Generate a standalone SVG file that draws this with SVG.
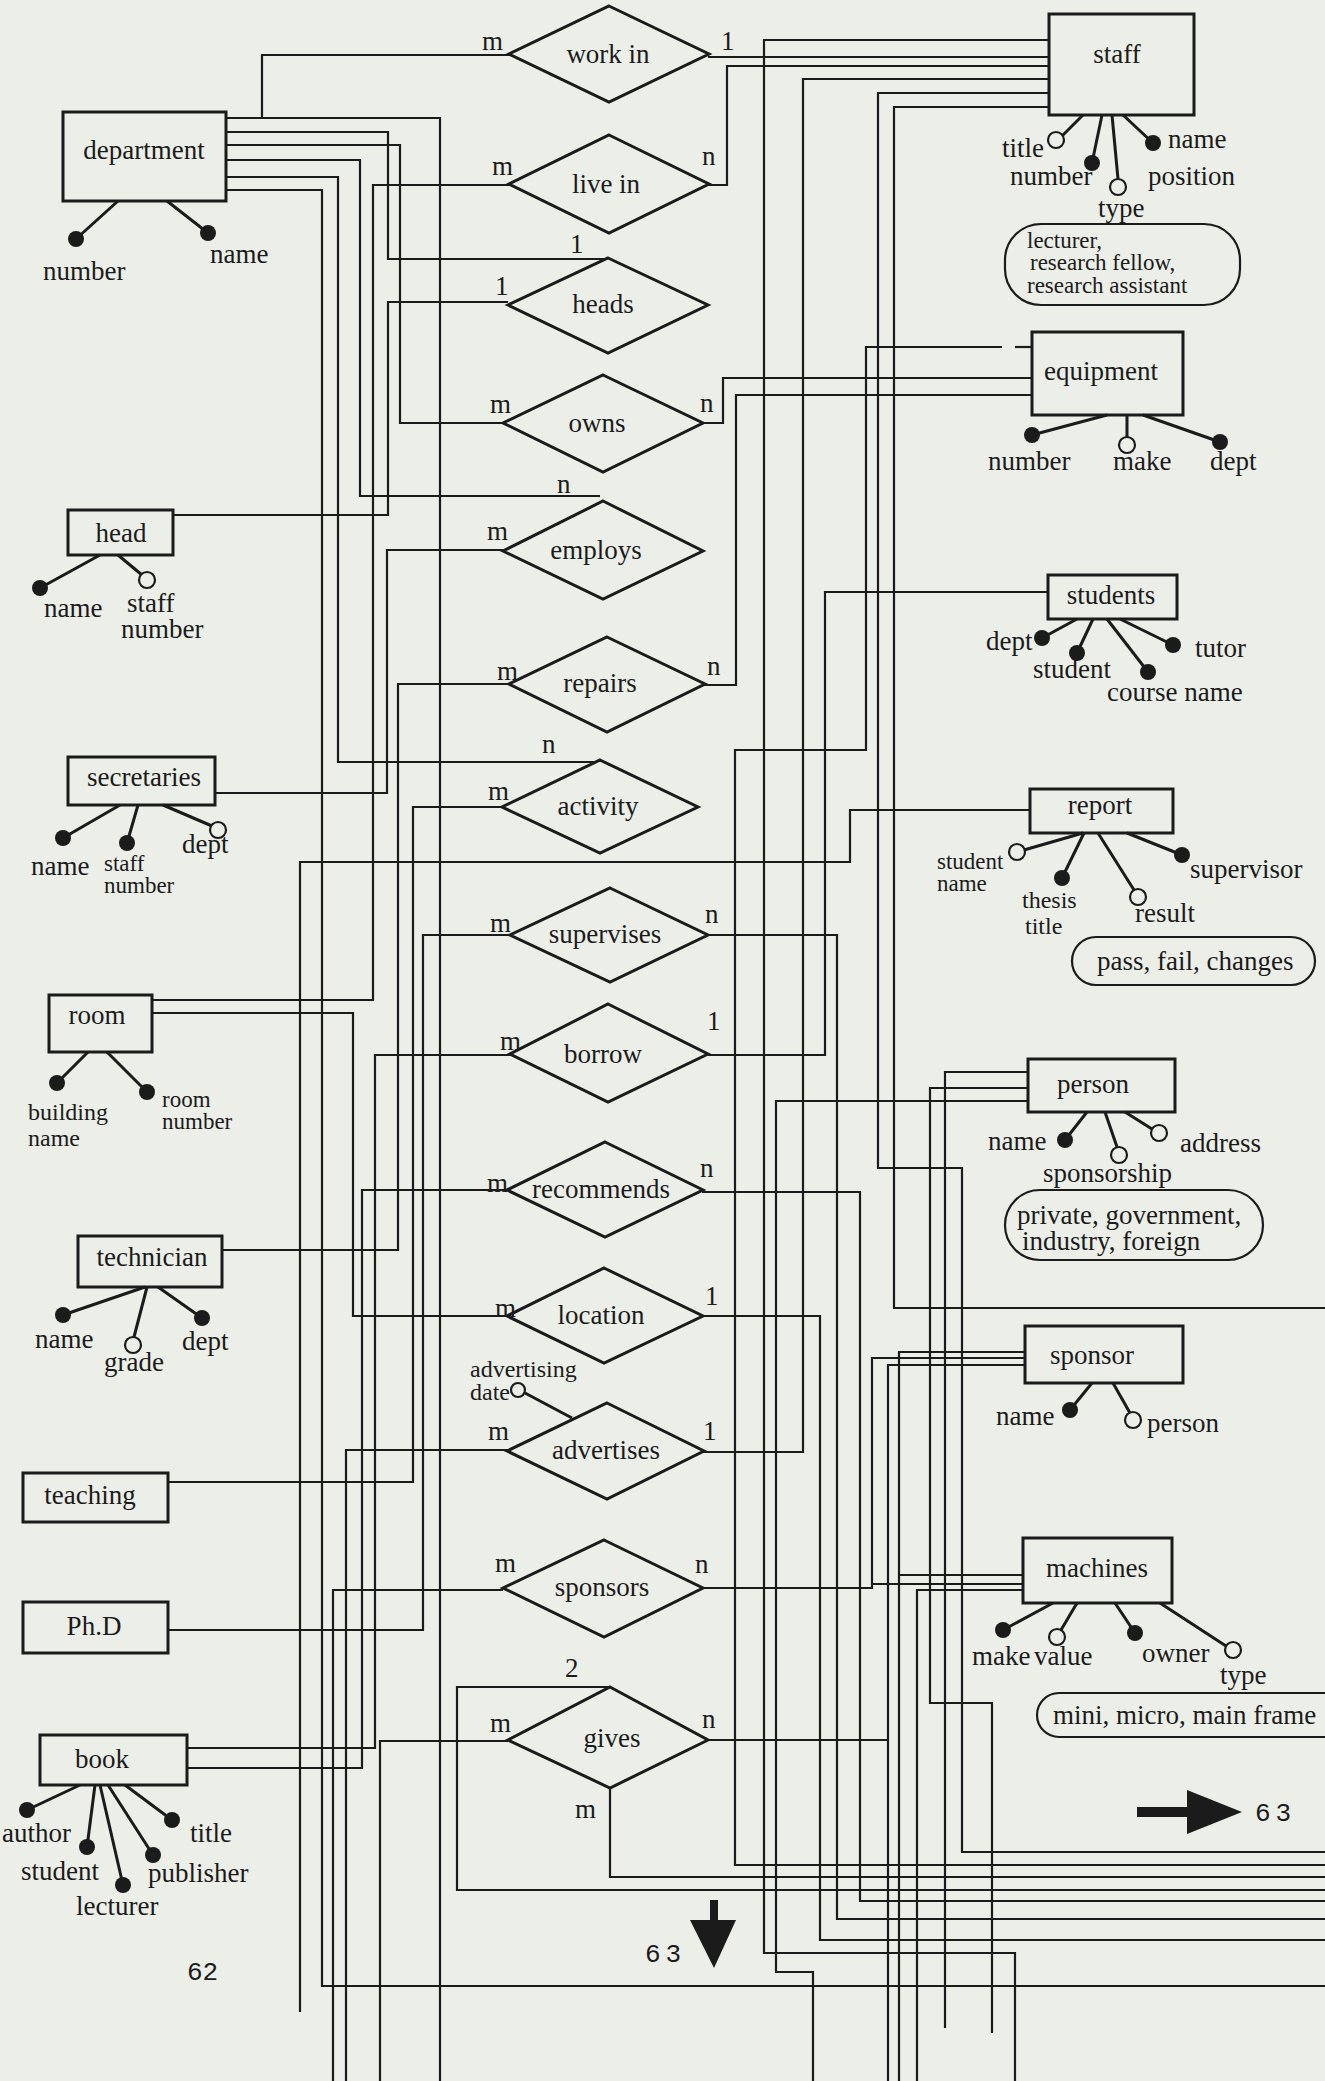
<svg xmlns="http://www.w3.org/2000/svg" width="1325" height="2081" viewBox="0 0 1325 2081">
<style>
.bg{fill:#eceee8}
.c{fill:none;stroke:#1b1b1b;stroke-width:2.2}
.box{fill:#eceee8;stroke:#1b1b1b;stroke-width:3}
.dia{fill:#eceee8;stroke:#1b1b1b;stroke-width:3}
.al{stroke:#1b1b1b;stroke-width:3}
.fc{fill:#1b1b1b}
.oc{fill:#eceee8;stroke:#1b1b1b;stroke-width:2.2}
text{font-family:"Liberation Serif",serif;font-size:27px;fill:#1b1b1b}
.m{text-anchor:middle}
.s{font-size:23px}
.t2{font-size:24px}
.mono{font-family:"Liberation Mono",monospace;font-size:26px}
</style>
<rect class="bg" x="0" y="0" width="1325" height="2081"/>

<g id="connectors">
<path class="c" d="M226,118 H262 V55 H510"/>
<path class="c" d="M262,118 H440 V2081"/>
<path class="c" d="M226,132 H388 V259 H606"/>
<path class="c" d="M226,145 H400 V423 H503"/>
<path class="c" d="M226,160 H360 V496 H600"/>
<path class="c" d="M226,177 H338 V762 H598"/>
<path class="c" d="M226,190 H322 V1986 H1325"/>
<path class="c" d="M510,185 H373 V1000 H152"/>
<path class="c" d="M173,515 H388 V302 H508"/>
<path class="c" d="M215,793 H387 V550 H503"/>
<path class="c" d="M510,684 H398 V1250 H222"/>
<path class="c" d="M503,807 H413 V1482 H168"/>
<path class="c" d="M510,935 H423 V1630 H168"/>
<path class="c" d="M1030,810 H850 V862 H300 V2012"/>
<path class="c" d="M152,1013 H353 V1316 H508"/>
<path class="c" d="M510,1055 H375 V1748 H187"/>
<path class="c" d="M508,1190 H362 V1768 H187"/>
<path class="c" d="M508,1450 H346 V2081"/>
<path class="c" d="M503,1590 H333 V2081"/>
<path class="c" d="M508,1741 H380 V2081"/>
<path class="c" d="M608,1687 H457 V1890 H1325"/>
<path class="c" d="M610,1788 V1877 H1325"/>
<path class="c" d="M708,57 H1049"/>
<path class="c" d="M1049,40 H764 V1953 H1015 V2081"/>
<path class="c" d="M708,185 H727 V66 H1049"/>
<path class="c" d="M1049,79 H803 V1452 H703"/>
<path class="c" d="M1049,93 H878 V1168 H962 V1852 H1325"/>
<path class="c" d="M1049,107 H894 V1308 H1325"/>
<path class="c" d="M703,423 H723 V378 H1032"/>
<path class="c" d="M703,685 H736 V395 H1032"/>
<path class="c" d="M1002,347 H866 V750 H735 V1865 H1325"/>
<path class="c" d="M1015,347 H1040"/>
<path class="c" d="M1048,592 H825 V1055 H708"/>
<path class="c" d="M708,935 H837 V1919 H1325"/>
<path class="c" d="M702,1192 H860 V1901 H1325"/>
<path class="c" d="M702,1316 H820 V1940 H1325"/>
<path class="c" d="M1028,1101 H776 V1972 H813 V2081"/>
<path class="c" d="M1028,1072 H945 V2028"/>
<path class="c" d="M1028,1088 H930 V1703 H992 V2033"/>
<path class="c" d="M1025,1358 H872 V1588 H703"/>
<path class="c" d="M872,1584 H1023"/>
<path class="c" d="M1025,1365 H888 V2081"/>
<path class="c" d="M707,1740 H888"/>
<path class="c" d="M1025,1352 H899 V2081"/>
<path class="c" d="M899,1575 H1023"/>
<path class="c" d="M1023,1590 H917 V2081"/>
</g>

<g id="relationships">
<g id="work-in"><polygon class="dia" points="609,6 709,54 609,102 509,54"/><text class="m" x="608" y="63">work in</text>
<text x="482" y="50">m</text><text x="721" y="50">1</text></g>
<g id="live-in"><polygon class="dia" points="609,135 709,184 609,233 509,184"/><text class="m" x="606" y="193">live in</text>
<text x="492" y="175">m</text><text x="702" y="165">n</text></g>
<g id="heads"><polygon class="dia" points="608,258 708,305 608,353 508,305"/><text class="m" x="603" y="313">heads</text>
<text x="570" y="253">1</text><text x="495" y="295">1</text></g>
<g id="owns"><polygon class="dia" points="603,375 703,423 603,472 503,423"/><text class="m" x="597" y="432">owns</text>
<text x="490" y="413">m</text><text x="700" y="412">n</text></g>
<g id="employs"><polygon class="dia" points="603,501 703,551 603,599 503,551"/><text class="m" x="596" y="559">employs</text>
<text x="557" y="493">n</text><text x="487" y="540">m</text></g>
<g id="repairs"><polygon class="dia" points="607,637 705,684 607,732 509,684"/><text class="m" x="600" y="692">repairs</text>
<text x="497" y="680">m</text><text x="707" y="675">n</text></g>
<g id="activity"><polygon class="dia" points="600,760 698,807 600,853 502,807"/><text class="m" x="598" y="815">activity</text>
<text x="542" y="753">n</text><text x="488" y="800">m</text></g>
<g id="supervises"><polygon class="dia" points="610,888 708,935 610,982 510,935"/><text class="m" x="605" y="943">supervises</text>
<text x="490" y="932">m</text><text x="705" y="923">n</text></g>
<g id="borrow"><polygon class="dia" points="608,1004 708,1054 608,1102 510,1054"/><text class="m" x="603" y="1063">borrow</text>
<text x="500" y="1050">m</text><text x="707" y="1030">1</text></g>
<g id="recommends"><polygon class="dia" points="605,1142 703,1190 605,1237 507,1190"/><text class="m" x="601" y="1198">recommends</text>
<text x="487" y="1192">m</text><text x="700" y="1177">n</text></g>
<g id="location"><polygon class="dia" points="604,1268 703,1316 604,1363 507,1316"/><text class="m" x="601" y="1324">location</text>
<text x="495" y="1317">m</text><text x="705" y="1305">1</text></g>
<g id="advertises"><polygon class="dia" points="607,1403 704,1451 607,1499 507,1451"/><text class="m" x="606" y="1459">advertises</text>
<text x="488" y="1440">m</text><text x="703" y="1440">1</text>
<line class="al" x1="525" y1="1393" x2="572" y2="1418"/><circle class="oc" cx="518" cy="1390" r="7"/>
<text class="t2" x="470" y="1377">advertising</text><text class="t2" x="470" y="1400">date</text></g>
<g id="sponsors"><polygon class="dia" points="604,1540 703,1588 604,1637 503,1588"/><text class="m" x="602" y="1596">sponsors</text>
<text x="495" y="1572">m</text><text x="695" y="1573">n</text></g>
<g id="gives"><polygon class="dia" points="610,1687 708,1740 610,1788 508,1740"/><text class="m" x="612" y="1747">gives</text>
<text x="565" y="1677">2</text><text x="490" y="1732">m</text><text x="702" y="1728">n</text><text x="575" y="1818">m</text></g>
</g>

<g id="department"><rect class="box" x="63" y="112" width="163" height="89"/><text class="m" x="144" y="159">department</text>
<line class="al" x1="118" y1="201" x2="76" y2="239"/><circle class="fc" cx="76" cy="239" r="8"/><text x="43" y="280">number</text>
<line class="al" x1="167" y1="201" x2="208" y2="233"/><circle class="fc" cx="208" cy="233" r="8"/><text x="210" y="263">name</text></g>

<g id="staff"><rect class="box" x="1049" y="14" width="145" height="101"/><text class="m" x="1117" y="63">staff</text>
<line class="al" x1="1083" y1="115" x2="1062" y2="136"/><circle class="oc" cx="1056" cy="140" r="8"/><text x="1002" y="157">title</text>
<line class="al" x1="1102" y1="115" x2="1092" y2="163"/><circle class="fc" cx="1092" cy="163" r="8"/><text x="1010" y="185">number</text>
<line class="al" x1="1112" y1="115" x2="1118" y2="179"/><circle class="oc" cx="1118" cy="187" r="8"/><text x="1098" y="217">type</text>
<line class="al" x1="1123" y1="115" x2="1153" y2="143"/><circle class="fc" cx="1153" cy="143" r="8"/><text x="1168" y="148">name</text>
<text x="1148" y="185">position</text>
<rect class="oc" x="1005" y="224" width="235" height="81" rx="36"/>
<text class="s" x="1027" y="248">lecturer,</text><text class="s" x="1030" y="270">research fellow,</text><text class="s" x="1027" y="293">research assistant</text></g>

<g id="equipment"><rect class="box" x="1032" y="332" width="151" height="83"/><text class="m" x="1101" y="380">equipment</text>
<line class="al" x1="1107" y1="415" x2="1032" y2="435"/><circle class="fc" cx="1032" cy="435" r="8"/><text x="988" y="470">number</text>
<line class="al" x1="1127" y1="415" x2="1127" y2="437"/><circle class="oc" cx="1127" cy="445" r="8"/><text x="1113" y="470">make</text>
<line class="al" x1="1143" y1="415" x2="1220" y2="442"/><circle class="fc" cx="1220" cy="442" r="8"/><text x="1210" y="470">dept</text></g>

<g id="head"><rect class="box" x="68" y="510" width="105" height="45"/><text class="m" x="121" y="542">head</text>
<line class="al" x1="100" y1="555" x2="40" y2="588"/><circle class="fc" cx="40" cy="588" r="8"/><text x="44" y="617">name</text>
<line class="al" x1="118" y1="555" x2="142" y2="575"/><circle class="oc" cx="147" cy="580" r="8"/><text x="127" y="612">staff</text><text x="121" y="638">number</text></g>

<g id="students"><rect class="box" x="1048" y="575" width="129" height="44"/><text class="m" x="1111" y="604">students</text>
<line class="al" x1="1077" y1="619" x2="1042" y2="638"/><circle class="fc" cx="1042" cy="638" r="8"/><text x="986" y="650">dept</text>
<line class="al" x1="1093" y1="619" x2="1077" y2="653"/><circle class="fc" cx="1077" cy="653" r="8"/><text x="1033" y="678">student</text>
<line class="al" x1="1107" y1="619" x2="1148" y2="672"/><circle class="fc" cx="1148" cy="672" r="8"/><text x="1107" y="701">course name</text>
<line class="al" x1="1120" y1="619" x2="1173" y2="645"/><circle class="fc" cx="1173" cy="645" r="8"/><text x="1195" y="657">tutor</text></g>

<g id="secretaries"><rect class="box" x="68" y="757" width="147" height="48"/><text class="m" x="144" y="786">secretaries</text>
<line class="al" x1="120" y1="805" x2="63" y2="838"/><circle class="fc" cx="63" cy="838" r="8"/><text x="31" y="875">name</text>
<line class="al" x1="138" y1="805" x2="127" y2="843"/><circle class="fc" cx="127" cy="843" r="8"/><text class="s" x="104" y="871">staff</text><text class="s" x="104" y="893">number</text>
<line class="al" x1="163" y1="805" x2="212" y2="826"/><circle class="oc" cx="218" cy="830" r="8"/><text x="182" y="853">dept</text></g>

<g id="report"><rect class="box" x="1030" y="789" width="143" height="44"/><text class="m" x="1100" y="814">report</text>
<line class="al" x1="1083" y1="833" x2="1024" y2="850"/><circle class="oc" cx="1017" cy="852" r="8"/><text class="s" x="937" y="869">student</text><text class="s" x="937" y="891">name</text>
<line class="al" x1="1084" y1="833" x2="1062" y2="878"/><circle class="fc" cx="1062" cy="878" r="8"/><text class="t2" x="1022" y="908">thesis</text><text class="t2" x="1025" y="934">title</text>
<line class="al" x1="1098" y1="833" x2="1134" y2="890"/><circle class="oc" cx="1138" cy="897" r="8"/><text x="1135" y="922">result</text>
<line class="al" x1="1127" y1="833" x2="1182" y2="855"/><circle class="fc" cx="1182" cy="855" r="8"/><text x="1190" y="878">supervisor</text>
<rect class="oc" x="1072" y="937" width="243" height="48" rx="24"/><text x="1097" y="970">pass, fail, changes</text></g>

<g id="room"><rect class="box" x="49" y="995" width="103" height="57"/><text class="m" x="97" y="1024">room</text>
<line class="al" x1="88" y1="1052" x2="57" y2="1083"/><circle class="fc" cx="57" cy="1083" r="8"/><text class="t2" x="28" y="1120">building</text><text class="t2" x="28" y="1146">name</text>
<line class="al" x1="107" y1="1052" x2="147" y2="1092"/><circle class="fc" cx="147" cy="1092" r="8"/><text class="s" x="162" y="1107">room</text><text class="s" x="162" y="1129">number</text></g>

<g id="person"><rect class="box" x="1028" y="1059" width="147" height="53"/><text class="m" x="1093" y="1093">person</text>
<line class="al" x1="1087" y1="1112" x2="1065" y2="1140"/><circle class="fc" cx="1065" cy="1140" r="8"/><text x="988" y="1150">name</text>
<line class="al" x1="1105" y1="1112" x2="1117" y2="1147"/><circle class="oc" cx="1119" cy="1155" r="8"/><text x="1043" y="1182">sponsorship</text>
<line class="al" x1="1125" y1="1112" x2="1152" y2="1129"/><circle class="oc" cx="1159" cy="1133" r="8"/><text x="1180" y="1152">address</text>
<rect class="oc" x="1005" y="1190" width="258" height="70" rx="35"/>
<text x="1017" y="1224">private, government,</text><text x="1022" y="1250">industry, foreign</text></g>

<g id="technician"><rect class="box" x="78" y="1236" width="144" height="51"/><text class="m" x="152" y="1266">technician</text>
<line class="al" x1="145" y1="1287" x2="63" y2="1315"/><circle class="fc" cx="63" cy="1315" r="8"/><text x="35" y="1348">name</text>
<line class="al" x1="147" y1="1287" x2="134" y2="1337"/><circle class="oc" cx="133" cy="1345" r="8"/><text x="104" y="1371">grade</text>
<line class="al" x1="158" y1="1287" x2="202" y2="1318"/><circle class="fc" cx="202" cy="1318" r="8"/><text x="182" y="1350">dept</text></g>

<g id="sponsor"><rect class="box" x="1025" y="1326" width="158" height="57"/><text class="m" x="1092" y="1364">sponsor</text>
<line class="al" x1="1092" y1="1383" x2="1070" y2="1410"/><circle class="fc" cx="1070" cy="1410" r="8"/><text x="996" y="1425">name</text>
<line class="al" x1="1113" y1="1383" x2="1130" y2="1413"/><circle class="oc" cx="1133" cy="1420" r="8"/><text x="1147" y="1432">person</text></g>

<g id="teaching"><rect class="box" x="23" y="1473" width="145" height="49"/><text class="m" x="90" y="1504">teaching</text></g>

<g id="machines"><rect class="box" x="1023" y="1538" width="149" height="65"/><text class="m" x="1097" y="1577">machines</text>
<line class="al" x1="1053" y1="1603" x2="1003" y2="1630"/><circle class="fc" cx="1003" cy="1630" r="8"/><text x="972" y="1665">make</text>
<line class="al" x1="1077" y1="1603" x2="1061" y2="1630"/><circle class="oc" cx="1057" cy="1637" r="8"/><text x="1034" y="1665">value</text>
<line class="al" x1="1115" y1="1603" x2="1135" y2="1633"/><circle class="fc" cx="1135" cy="1633" r="8"/><text x="1142" y="1662">owner</text>
<line class="al" x1="1160" y1="1603" x2="1226" y2="1646"/><circle class="oc" cx="1233" cy="1650" r="8"/><text x="1220" y="1684">type</text>
<rect class="oc" x="1037" y="1693" width="310" height="44" rx="22"/><text x="1053" y="1724">mini, micro, main frame</text></g>

<g id="phd"><rect class="box" x="23" y="1602" width="145" height="51"/><text class="m" x="94" y="1635">Ph.D</text></g>

<g id="book"><rect class="box" x="40" y="1735" width="147" height="50"/><text class="m" x="102" y="1768">book</text>
<line class="al" x1="80" y1="1785" x2="27" y2="1810"/><circle class="fc" cx="27" cy="1810" r="8"/><text x="2" y="1842">author</text>
<line class="al" x1="95" y1="1785" x2="87" y2="1847"/><circle class="fc" cx="87" cy="1847" r="8"/><text x="21" y="1880">student</text>
<line class="al" x1="100" y1="1785" x2="123" y2="1885"/><circle class="fc" cx="123" cy="1885" r="8"/><text x="76" y="1915">lecturer</text>
<line class="al" x1="108" y1="1785" x2="153" y2="1855"/><circle class="fc" cx="153" cy="1855" r="8"/><text x="148" y="1882">publisher</text>
<line class="al" x1="125" y1="1785" x2="172" y2="1820"/><circle class="fc" cx="172" cy="1820" r="8"/><text x="190" y="1842">title</text></g>

<g id="page-marks">
<text class="mono" x="187" y="1980">62</text>
<rect class="fc" x="1137" y="1807" width="52" height="10"/>
<polygon class="fc" points="1187,1790 1242,1812 1187,1834"/>
<text class="mono" x="1255" y="1821" letter-spacing="5">63</text>
<rect class="fc" x="710" y="1900" width="8" height="22"/>
<polygon class="fc" points="690,1920 736,1920 714,1968"/>
<text class="mono" x="645" y="1962" letter-spacing="5">63</text>
</g>
</svg>
